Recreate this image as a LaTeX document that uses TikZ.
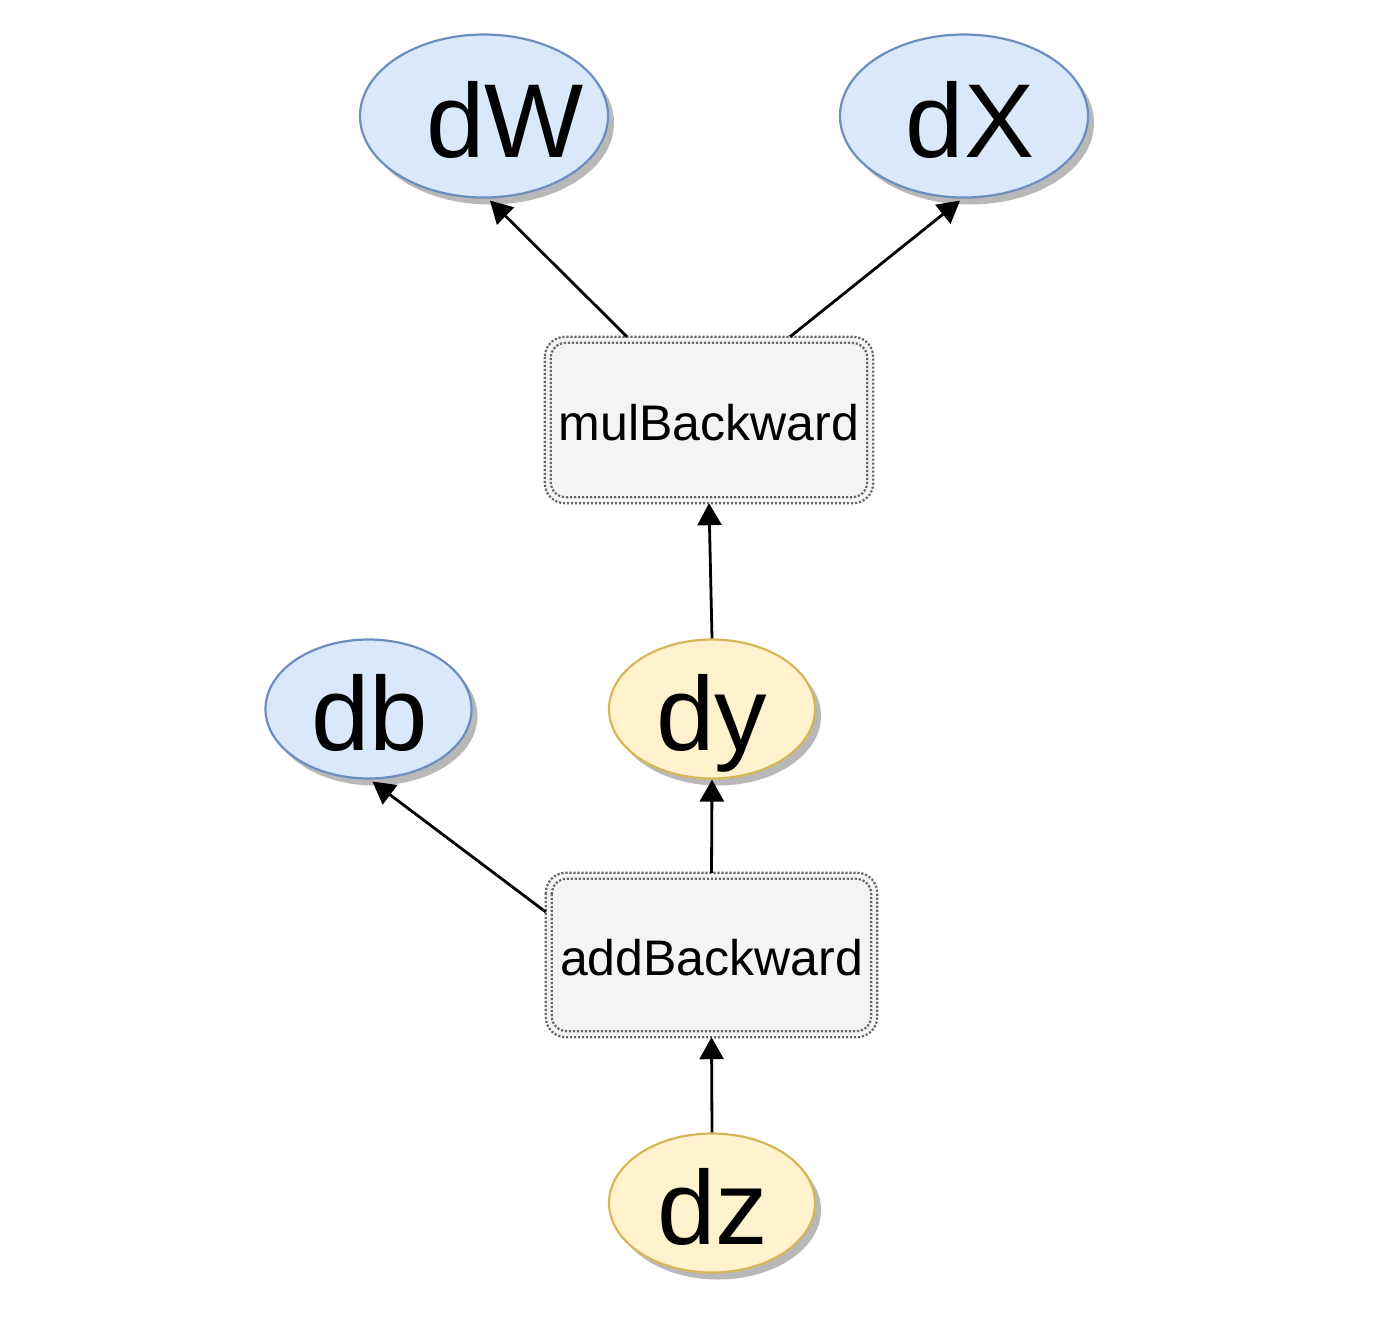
\documentclass[tikz,border=0pt]{standalone}
\usepackage{fontspec}
\setmainfont{Liberation Sans}
\usetikzlibrary{shapes.geometric,arrows.meta,shadows}
\definecolor{bluefill}{HTML}{DAE8FC}
\definecolor{bluedraw}{HTML}{6C8EBF}
\definecolor{yelfill}{HTML}{FFF2CC}
\definecolor{yeldraw}{HTML}{D6B656}
\definecolor{boxfill}{HTML}{F4F4F4}
\definecolor{boxdraw}{HTML}{666666}
\begin{document}
\begin{tikzpicture}[x=1pt,y=-1pt,
  var/.style={ellipse, line width=2.2pt, inner sep=0pt,
    drop shadow={shadow xshift=6pt,shadow yshift=-7pt,fill=black!28,opacity=1}},
  bluevar/.style={var, draw=bluedraw, fill=bluefill},
  yelvar/.style={var, draw=yeldraw, fill=yelfill},
  big/.style={minimum width=248pt, minimum height=163pt},
  small/.style={minimum width=206pt, minimum height=139pt},
  lab/.style={inner sep=0pt, font=\fontsize{105}{105}\selectfont, text height=82pt, text depth=0pt},
  opbox/.style={rectangle, rounded corners=20pt, fill=boxfill, inner sep=0pt,
    font=\fontsize{50}{50}\selectfont, text height=40pt, text depth=0pt},
  dotline/.style={draw=boxdraw, line width=2.2pt, dash pattern=on 2.2pt off 1.8pt},
  arr/.style={line width=2.8pt, -{Triangle[length=22pt,width=24pt]}}
]
\useasboundingbox (0,0) rectangle (1396,1322);

\node[bluevar, big, label={[lab, xshift=21pt]center:dW}] (dW) at (484,116) {};
\node[bluevar, big, label={[lab, xshift=6pt]center:dX}] (dX) at (964,116) {};
\node[bluevar, small, label={[lab, xshift=1pt]center:db}] (db) at (368.5,709) {};
\node[yelvar, small, label={[lab]center:dy}] (dy) at (712,709) {};
\node[yelvar, small, label={[lab, xshift=1pt]center:dz}] (dz) at (712,1203) {};

\node[opbox, minimum width=328pt, minimum height=166pt] (mul) at (709,420) {mulBackward};
\node[opbox, minimum width=331pt, minimum height=164pt] (add) at (711.5,955) {addBackward};

\foreach \b in {mul,add}{
  \draw[dotline, rounded corners=20pt] (\b.north west) rectangle (\b.south east);
  \draw[dotline, rounded corners=15pt] ([shift={(6,6)}]\b.north west) rectangle ([shift={(-6,-6)}]\b.south east);
}

\draw[arr] ([xshift=-82pt]mul.north) -- ([xshift=6pt,yshift=-2pt]dW.south);
\draw[arr] ([xshift=81pt]mul.north) -- ([xshift=-4pt,yshift=-2pt]dX.south);
\draw[arr] (dy.north) -- (mul.south);
\draw[arr] ([yshift=43pt]add.west) -- ([xshift=4pt,yshift=-2pt]db.south);
\draw[arr] (add.north) -- (dy.south);
\draw[arr] (dz.north) -- (add.south);
\end{tikzpicture}
\end{document}
